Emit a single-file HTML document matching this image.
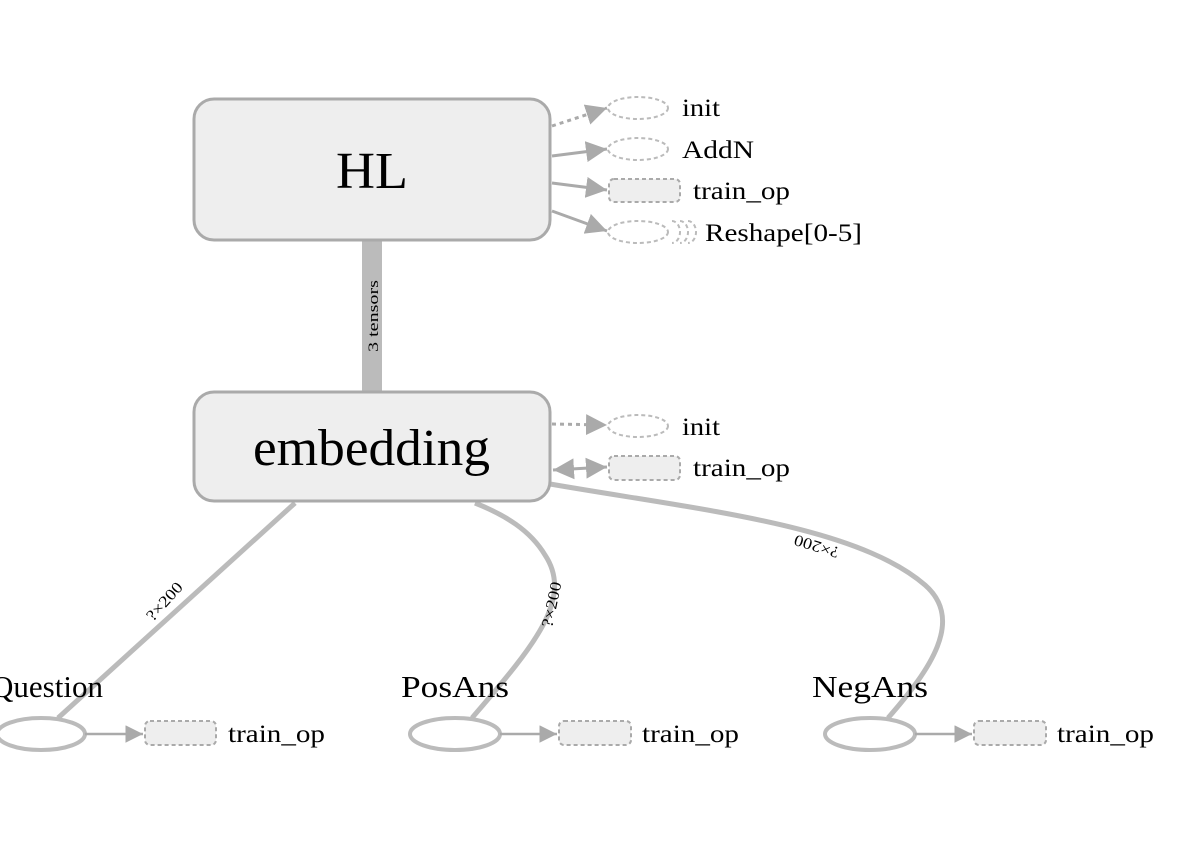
<!DOCTYPE html>
<html><head><meta charset="utf-8"><style>
html,body{margin:0;padding:0;background:#fff;width:1184px;height:854px;overflow:hidden}
svg{display:block}
text{font-family:"Liberation Serif",serif;fill:#000}
</style></head><body>
<svg width="1184" height="854" viewBox="0 0 1184 854" xmlns="http://www.w3.org/2000/svg">
<defs>
<marker id="ah" viewBox="0 0 10 10" refX="10" refY="5" markerWidth="7" markerHeight="7" orient="auto" markerUnits="strokeWidth">
<path d="M0,0 L10,5 L0,10 z" fill="#aaa"/></marker>
<marker id="ah2" viewBox="0 0 10 10" refX="10" refY="5" markerWidth="7" markerHeight="7" orient="auto-start-reverse" markerUnits="strokeWidth">
<path d="M0,0 L10,5 L0,10 z" fill="#aaa"/></marker>
</defs>

<!-- bottom edges -->
<path d="M58,718 L295,503" stroke="#bbb" stroke-width="5" fill="none"/>
<path d="M472,718 C530,650 575,600 545,555 C530,530 505,515 475,503" stroke="#bbb" stroke-width="5" fill="none"/>
<path d="M888,718 C930,670 965,620 925,585 C855,525 700,510 550,484" stroke="#bbb" stroke-width="5" fill="none"/>
<text x="0" y="0" font-size="16" fill="#444" textLength="46" lengthAdjust="spacingAndGlyphs" transform="translate(153,622) rotate(-48)">?×200</text>
<text x="0" y="0" font-size="16" fill="#444" textLength="46" lengthAdjust="spacingAndGlyphs" transform="translate(552,628) rotate(-78)">?×200</text>
<text x="0" y="0" font-size="16" fill="#444" textLength="46" lengthAdjust="spacingAndGlyphs" transform="translate(840,548) rotate(-163)">?×200</text>

<!-- thick edge -->
<rect x="362" y="240" width="20" height="152" fill="#bbb"/>
<text x="0" y="0" font-size="15" fill="#555" textLength="72" lengthAdjust="spacingAndGlyphs" transform="translate(378,352) rotate(-90)">3 tensors</text>

<!-- HL box -->
<rect x="194" y="99" width="356" height="141" rx="20" fill="#eee" stroke="#aaa" stroke-width="3"/>
<text x="336" y="188" font-size="52" textLength="72" lengthAdjust="spacingAndGlyphs" fill="#222">HL</text>

<!-- embedding box -->
<rect x="194" y="392" width="356" height="109" rx="20" fill="#eee" stroke="#aaa" stroke-width="3"/>
<text x="253" y="465" font-size="52" textLength="237" lengthAdjust="spacingAndGlyphs" fill="#222">embedding</text>

<!-- HL outputs -->
<path d="M552,126 L607,108" stroke="#aaa" stroke-width="3" stroke-dasharray="4,4" fill="none" marker-end="url(#ah)"/>
<ellipse cx="638" cy="108" rx="30" ry="11" fill="#fff" stroke="#bbb" stroke-width="2" stroke-dasharray="4,3"/>
<text x="682" y="116" font-size="25" textLength="38" lengthAdjust="spacingAndGlyphs">init</text>

<path d="M552,156 L607,149" stroke="#aaa" stroke-width="3" fill="none" marker-end="url(#ah)"/>
<ellipse cx="638" cy="149" rx="30" ry="11" fill="#fff" stroke="#bbb" stroke-width="2" stroke-dasharray="4,3"/>
<text x="682" y="158" font-size="25" textLength="72" lengthAdjust="spacingAndGlyphs">AddN</text>

<path d="M552,183 L607,190" stroke="#aaa" stroke-width="3" fill="none" marker-end="url(#ah)"/>
<rect x="609" y="179" width="71" height="23" rx="5" fill="#eee" stroke="#aaa" stroke-width="2" stroke-dasharray="4,3"/>
<text x="693" y="199" font-size="25" textLength="97" lengthAdjust="spacingAndGlyphs">train_op</text>

<path d="M552,211 L607,231" stroke="#aaa" stroke-width="3" fill="none" marker-end="url(#ah)"/>
<path d="M672,221 a8,11 0 0 1 0,22 M680,221 a8,11 0 0 1 0,22 M688,221 a8,11 0 0 1 0,22" fill="none" stroke="#bbb" stroke-width="2" stroke-dasharray="4,3"/>
<ellipse cx="638" cy="232" rx="30" ry="11" fill="#fff" stroke="#bbb" stroke-width="2" stroke-dasharray="4,3"/>
<text x="705" y="241" font-size="25" textLength="157" lengthAdjust="spacingAndGlyphs">Reshape[0-5]</text>

<!-- embedding outputs -->
<path d="M552,424 L607,425" stroke="#aaa" stroke-width="3" stroke-dasharray="4,4" fill="none" marker-end="url(#ah)"/>
<ellipse cx="638" cy="426" rx="30" ry="11" fill="#fff" stroke="#bbb" stroke-width="2" stroke-dasharray="4,3"/>
<text x="682" y="435" font-size="25" textLength="38" lengthAdjust="spacingAndGlyphs">init</text>

<path d="M553,470 L607,467" stroke="#aaa" stroke-width="3" fill="none" marker-start="url(#ah2)" marker-end="url(#ah)"/>
<rect x="609" y="456" width="71" height="24" rx="5" fill="#eee" stroke="#aaa" stroke-width="2" stroke-dasharray="4,3"/>
<text x="693" y="476" font-size="25" textLength="97" lengthAdjust="spacingAndGlyphs">train_op</text>

<!-- bottom nodes -->
<text x="-9" y="697" font-size="31" textLength="112" lengthAdjust="spacingAndGlyphs">Question</text>
<ellipse cx="41" cy="734" rx="44" ry="16" fill="#fff" stroke="#bbb" stroke-width="4"/>
<path d="M85,734 L143,734" stroke="#aaa" stroke-width="2.5" fill="none" marker-end="url(#ah)"/>
<rect x="145" y="721" width="71" height="24" rx="5" fill="#eee" stroke="#aaa" stroke-width="2" stroke-dasharray="4,3"/>
<text x="228" y="742" font-size="25" textLength="97" lengthAdjust="spacingAndGlyphs">train_op</text>

<text x="401" y="697" font-size="31" textLength="108" lengthAdjust="spacingAndGlyphs">PosAns</text>
<ellipse cx="455" cy="734" rx="45" ry="16" fill="#fff" stroke="#bbb" stroke-width="4"/>
<path d="M500,734 L557,734" stroke="#aaa" stroke-width="2.5" fill="none" marker-end="url(#ah)"/>
<rect x="559" y="721" width="72" height="24" rx="5" fill="#eee" stroke="#aaa" stroke-width="2" stroke-dasharray="4,3"/>
<text x="642" y="742" font-size="25" textLength="97" lengthAdjust="spacingAndGlyphs">train_op</text>

<text x="812" y="697" font-size="31" textLength="116" lengthAdjust="spacingAndGlyphs">NegAns</text>
<ellipse cx="870" cy="734" rx="45" ry="16" fill="#fff" stroke="#bbb" stroke-width="4"/>
<path d="M915,734 L972,734" stroke="#aaa" stroke-width="2.5" fill="none" marker-end="url(#ah)"/>
<rect x="974" y="721" width="72" height="24" rx="5" fill="#eee" stroke="#aaa" stroke-width="2" stroke-dasharray="4,3"/>
<text x="1057" y="742" font-size="25" textLength="97" lengthAdjust="spacingAndGlyphs">train_op</text>
</svg>
</body></html>
